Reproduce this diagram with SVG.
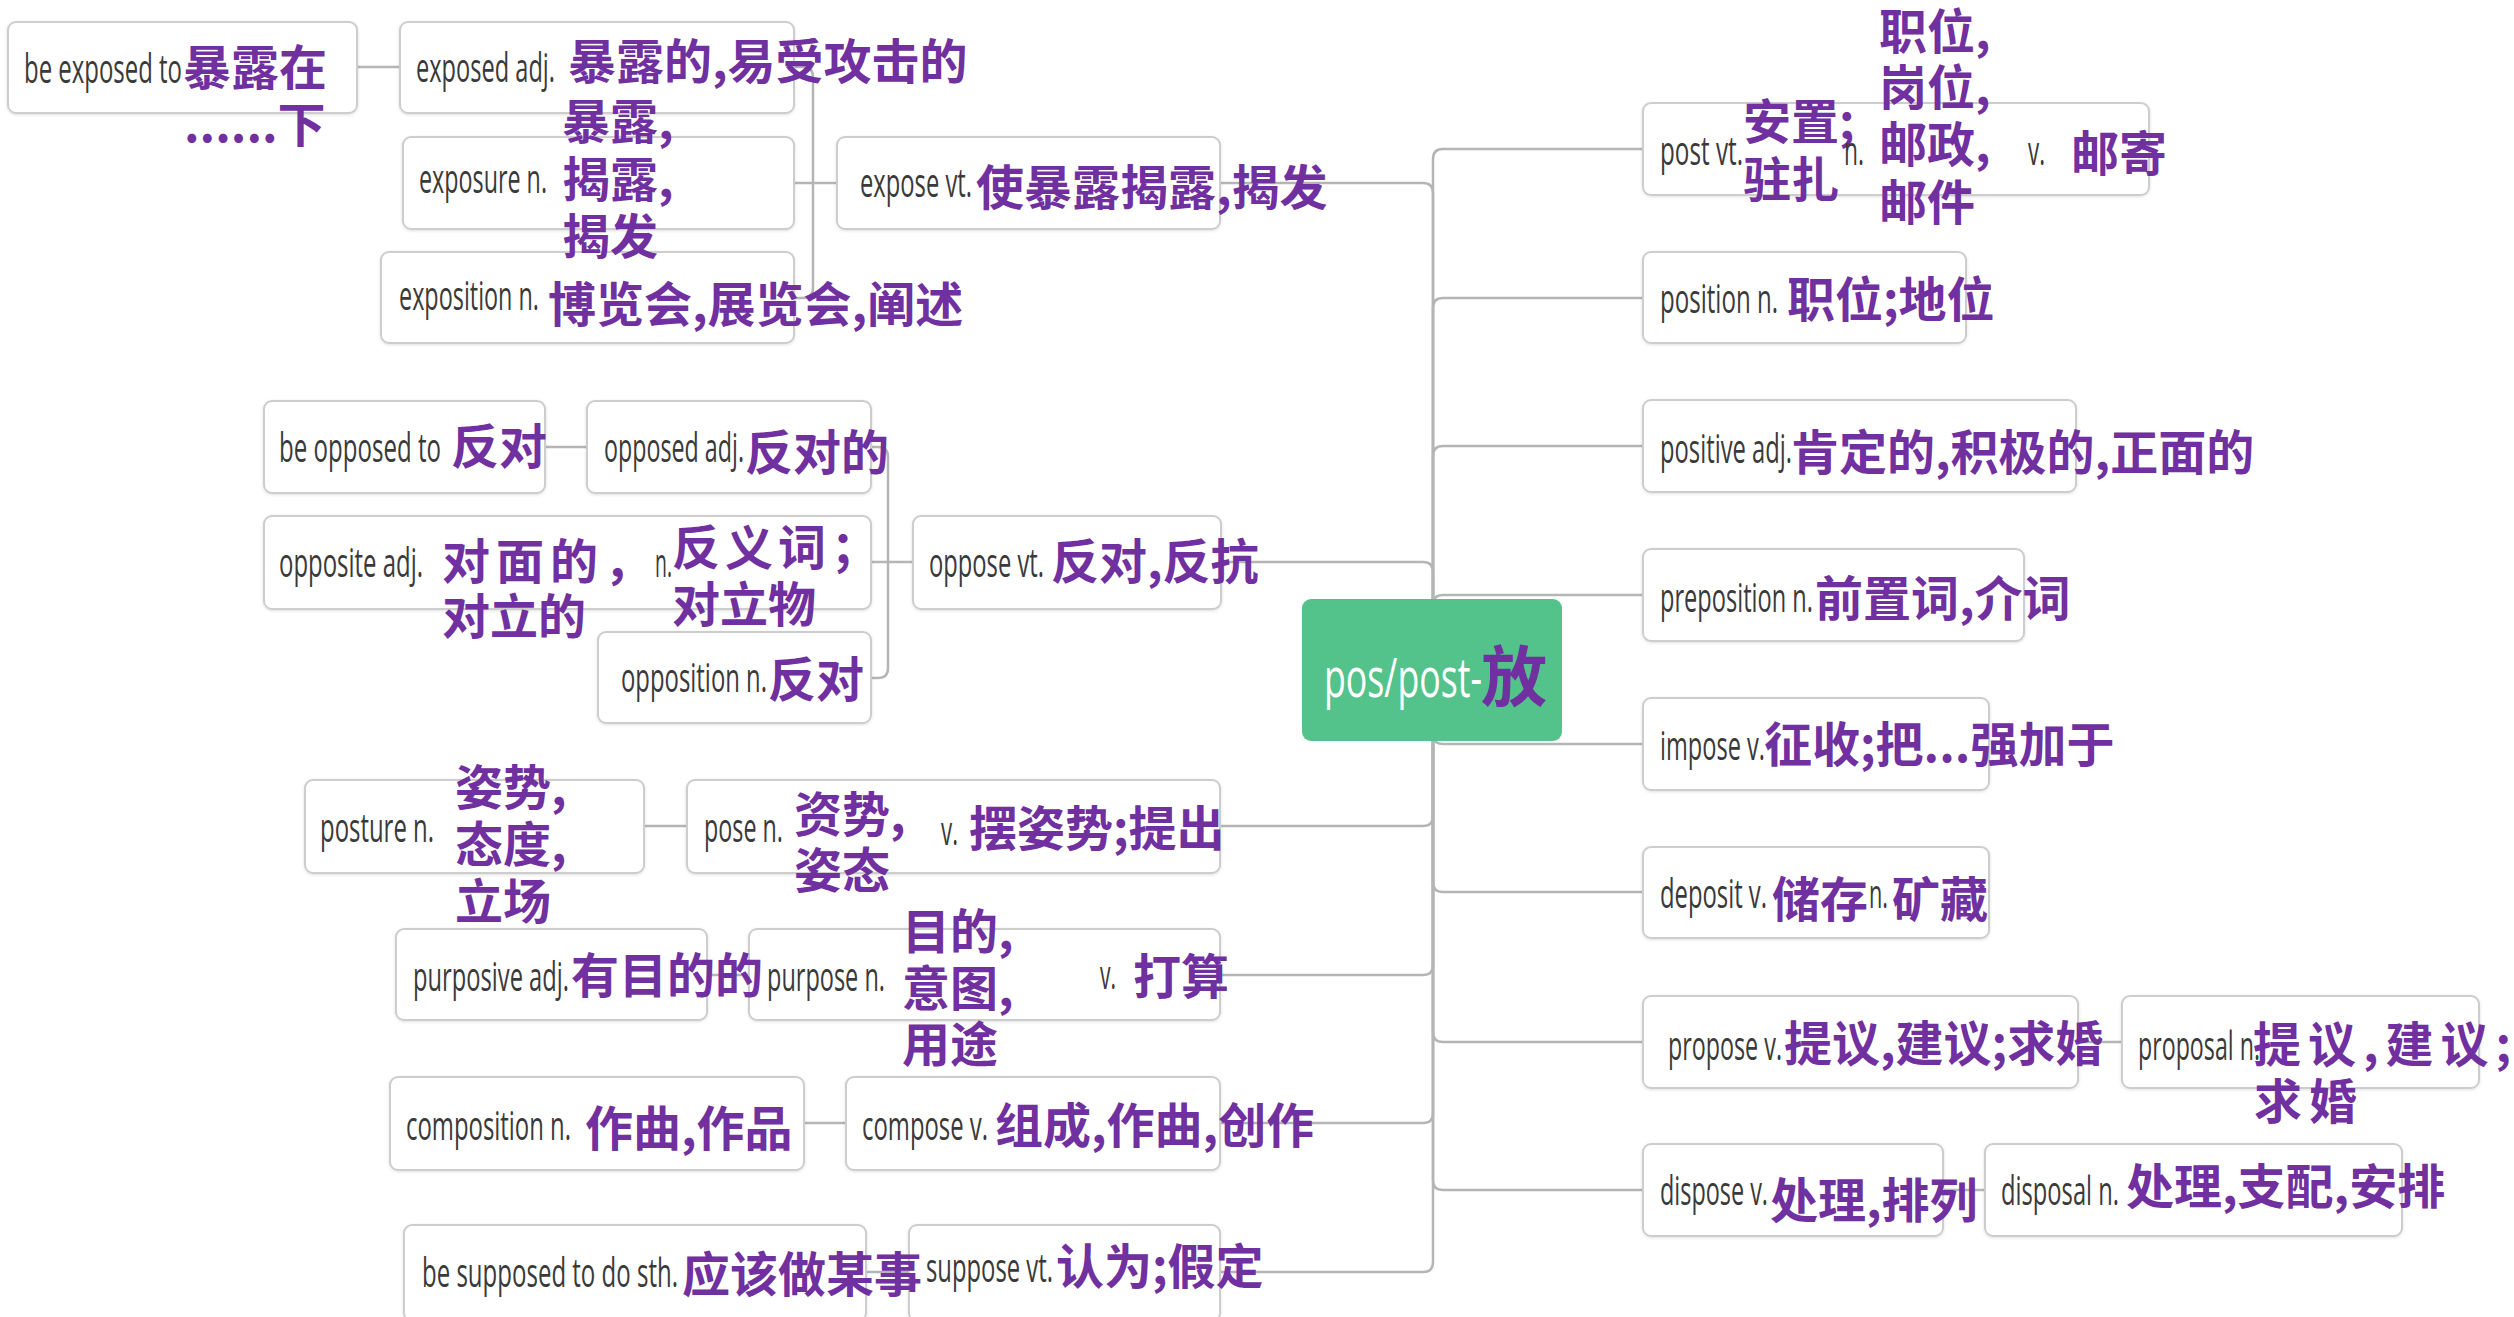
<svg xmlns="http://www.w3.org/2000/svg" width="2514" height="1317" viewBox="0 0 2514 1317">
<defs>
<filter id="sh" x="-5%" y="-10%" width="110%" height="125%">
<feDropShadow dx="0" dy="1" stdDeviation="1.5" flood-color="#000" flood-opacity="0.12"/>
</filter>
<style>
.box{fill:#fff;stroke:#cdcdcd;stroke-width:2;filter:url(#sh)}
.root{fill:#53c28b}
.en{font-family:"Open Sans","Liberation Sans",sans-serif;font-size:41px;fill:#3a3a3a}
.zh{font-family:"Noto Sans CJK SC","Noto Sans",sans-serif;font-size:48px;font-weight:700;fill:#7030a0}
.big{font-size:66px}
.ln{fill:none;stroke:#b5b5b5;stroke-width:2.5}
</style>
</defs>
<rect width="2514" height="1317" fill="#fff"/>

<g id="connectors">
<path class="ln" d="M1433,670 V159 Q1433,149 1443,149 H1643"/>
<path class="ln" d="M1433,670 V308 Q1433,298 1443,298 H1643"/>
<path class="ln" d="M1433,670 V456 Q1433,446 1443,446 H1643"/>
<path class="ln" d="M1433,670 V605 Q1433,595 1443,595 H1643"/>
<path class="ln" d="M1433,670 V734 Q1433,744 1443,744 H1643"/>
<path class="ln" d="M1433,670 V882 Q1433,892 1443,892 H1643"/>
<path class="ln" d="M1433,670 V1032 Q1433,1042 1443,1042 H1643"/>
<path class="ln" d="M1433,670 V1180 Q1433,1190 1443,1190 H1643"/>
<path class="ln" d="M1433,670 V193 Q1433,183 1423,183 H1220"/>
<path class="ln" d="M1433,670 V572 Q1433,562 1423,562 H1221"/>
<path class="ln" d="M1433,670 V816 Q1433,826 1423,826 H1220"/>
<path class="ln" d="M1433,670 V965 Q1433,975 1423,975 H1220"/>
<path class="ln" d="M1433,670 V1113 Q1433,1123 1423,1123 H1220"/>
<path class="ln" d="M1433,670 V1262 Q1433,1272 1423,1272 H1220"/>
<path class="ln" d="M837,183 H794"/>
<path class="ln" d="M813,183 V77 Q813,67 803,67 H794"/>
<path class="ln" d="M813,183 V288 Q813,298 803,298 H794"/>
<path class="ln" d="M913,562 H871"/>
<path class="ln" d="M888,562 V457 Q888,447 878,447 H871"/>
<path class="ln" d="M888,562 V668 Q888,678 878,678 H871"/>
<path class="ln" d="M357,67 H400"/>
<path class="ln" d="M545,447 H587"/>
<path class="ln" d="M644,826 H687"/>
<path class="ln" d="M707,975 H749"/>
<path class="ln" d="M804,1123 H846"/>
<path class="ln" d="M866,1272 H909"/>
<path class="ln" d="M2078,1042 H2122"/>
<path class="ln" d="M1943,1190 H1985"/>
</g>

<g id="root">
<rect class="root" x="1302" y="599" width="260" height="142" rx="9"/>
<text x="1324" y="697" font-family="'Open Sans','Liberation Sans',sans-serif" font-size="54" fill="#ffffff" textLength="158" lengthAdjust="spacingAndGlyphs">pos/post-</text>
<text class="zh big" x="1481" y="701">放</text>
</g>

<g id="be-exposed-to">
<rect class="box" x="8" y="22" width="349" height="91" rx="8"/>
<text class="en" x="24" y="83" textLength="158" lengthAdjust="spacingAndGlyphs">be exposed to</text>
<text class="zh"><tspan x="183" y="85">暴露在</tspan><tspan x="184" y="142">......下</tspan></text>
</g>

<g id="exposed">
<rect class="box" x="400" y="22" width="394" height="91" rx="8"/>
<text class="en" x="416" y="82" textLength="139" lengthAdjust="spacingAndGlyphs">exposed adj.</text>
<text class="zh" x="568" y="79">暴露的,易受攻击的</text>
</g>

<g id="exposition">
<rect class="box" x="381" y="252" width="413" height="91" rx="8"/>
<text class="en" x="399" y="310" textLength="140" lengthAdjust="spacingAndGlyphs">exposition n.</text>
<text class="zh" x="548" y="322">博览会,展览会,阐述</text>
</g>

<g id="exposure">
<rect class="box" x="403" y="137" width="391" height="92" rx="8"/>
<text class="en" x="419" y="193" textLength="128" lengthAdjust="spacingAndGlyphs">exposure n.</text>
<text class="zh"><tspan x="562" y="139">暴露,</tspan><tspan x="562" y="197">揭露,</tspan><tspan x="562" y="254">揭发</tspan></text>
</g>

<g id="expose">
<rect class="box" x="837" y="137" width="383" height="92" rx="8"/>
<text class="en" x="860" y="197" textLength="112" lengthAdjust="spacingAndGlyphs">expose vt.</text>
<text class="zh" x="976" y="205">使暴露揭露,揭发</text>
</g>

<g id="be-opposed-to">
<rect class="box" x="264" y="401" width="281" height="92" rx="8"/>
<text class="en" x="279" y="462" textLength="162" lengthAdjust="spacingAndGlyphs">be opposed to</text>
<text class="zh" x="451" y="464">反对</text>
</g>

<g id="opposed">
<rect class="box" x="587" y="401" width="284" height="92" rx="8"/>
<text class="en" x="604" y="462" textLength="140" lengthAdjust="spacingAndGlyphs">opposed adj.</text>
<text class="zh" x="745" y="470">反对的</text>
</g>

<g id="opposite">
<rect class="box" x="264" y="516" width="607" height="93" rx="8"/>
<text class="en" x="279" y="577" textLength="144" lengthAdjust="spacingAndGlyphs">opposite adj.</text>
<text class="zh"><tspan x="442" y="579" letter-spacing="6">对面的，</tspan><tspan x="442" y="634">对立的</tspan></text>
<text class="en" x="655" y="577" textLength="17" lengthAdjust="spacingAndGlyphs">n.</text>
<text class="zh"><tspan x="672" y="565" letter-spacing="5">反义词；</tspan><tspan x="672" y="622">对立物</tspan></text>
</g>

<g id="opposition">
<rect class="box" x="598" y="632" width="273" height="91" rx="8"/>
<text class="en" x="621" y="692" textLength="146" lengthAdjust="spacingAndGlyphs">opposition n.</text>
<text class="zh" x="768" y="697">反对</text>
</g>

<g id="oppose">
<rect class="box" x="913" y="516" width="308" height="93" rx="8"/>
<text class="en" x="929" y="577" textLength="115" lengthAdjust="spacingAndGlyphs">oppose vt.</text>
<text class="zh" x="1051" y="579">反对,反抗</text>
</g>

<g id="posture">
<rect class="box" x="305" y="780" width="339" height="93" rx="8"/>
<text class="en" x="320" y="842" textLength="114" lengthAdjust="spacingAndGlyphs">posture n.</text>
<text class="zh"><tspan x="455" y="805">姿势,</tspan><tspan x="455" y="862">态度,</tspan><tspan x="455" y="919">立场</tspan></text>
</g>

<g id="pose">
<rect class="box" x="687" y="780" width="533" height="93" rx="8"/>
<text class="en" x="704" y="842" textLength="79" lengthAdjust="spacingAndGlyphs">pose n.</text>
<text class="zh"><tspan x="794" y="832">资势,</tspan><tspan x="794" y="888">姿态</tspan></text>
<text class="en" x="941" y="845" textLength="17" lengthAdjust="spacingAndGlyphs">v.</text>
<text class="zh" x="969" y="846">摆姿势;提出</text>
</g>

<g id="purpose">
<rect class="box" x="749" y="929" width="471" height="91" rx="8"/>
<text class="en" x="767" y="991" textLength="118" lengthAdjust="spacingAndGlyphs">purpose n.</text>
<text class="zh"><tspan x="902" y="949">目的,</tspan><tspan x="902" y="1006">意图,</tspan><tspan x="902" y="1062">用途</tspan></text>
<text class="en" x="1100" y="989" textLength="16" lengthAdjust="spacingAndGlyphs">v.</text>
<text class="zh" x="1133" y="994">打算</text>
</g>

<g id="purposive">
<rect class="box" x="396" y="929" width="311" height="91" rx="8"/>
<text class="en" x="413" y="991" textLength="156" lengthAdjust="spacingAndGlyphs">purposive adj.</text>
<text class="zh" x="571" y="993">有目的的</text>
</g>

<g id="composition">
<rect class="box" x="390" y="1077" width="414" height="93" rx="8"/>
<text class="en" x="406" y="1140" textLength="165" lengthAdjust="spacingAndGlyphs">composition n.</text>
<text class="zh" x="585" y="1146">作曲,作品</text>
</g>

<g id="compose">
<rect class="box" x="846" y="1077" width="374" height="93" rx="8"/>
<text class="en" x="862" y="1140" textLength="126" lengthAdjust="spacingAndGlyphs">compose v.</text>
<text class="zh" x="995" y="1143">组成,作曲,创作</text>
</g>

<g id="suppose">
<rect class="box" x="909" y="1225" width="311" height="96" rx="8"/>
<text class="en" x="926" y="1282" textLength="127" lengthAdjust="spacingAndGlyphs">suppose vt.</text>
<text class="zh" x="1056" y="1284">认为;假定</text>
</g>

<g id="be-supposed-to">
<rect class="box" x="404" y="1225" width="462" height="96" rx="8"/>
<text class="en" x="422" y="1287" textLength="256" lengthAdjust="spacingAndGlyphs">be supposed to do sth.</text>
<text class="zh" x="682" y="1292">应该做某事</text>
</g>

<g id="post">
<rect class="box" x="1643" y="103" width="506" height="92" rx="8"/>
<text class="en" x="1660" y="165" textLength="83" lengthAdjust="spacingAndGlyphs">post vt.</text>
<text class="zh"><tspan x="1743" y="139">安置;</tspan><tspan x="1743" y="197">驻扎</tspan></text>
<text class="en" x="1844" y="165" textLength="20" lengthAdjust="spacingAndGlyphs">n.</text>
<text class="zh"><tspan x="1879" y="49">职位,</tspan><tspan x="1879" y="105">岗位,</tspan><tspan x="1879" y="162">邮政,</tspan><tspan x="1879" y="220">邮件</tspan></text>
<text class="en" x="2028" y="165" textLength="17" lengthAdjust="spacingAndGlyphs">v.</text>
<text class="zh" x="2071" y="171">邮寄</text>
</g>

<g id="position">
<rect class="box" x="1643" y="252" width="323" height="91" rx="8"/>
<text class="en" x="1660" y="313" textLength="118" lengthAdjust="spacingAndGlyphs">position n.</text>
<text class="zh" x="1787" y="317">职位;地位</text>
</g>

<g id="positive">
<rect class="box" x="1643" y="400" width="433" height="92" rx="8"/>
<text class="en" x="1660" y="463" textLength="132" lengthAdjust="spacingAndGlyphs">positive adj.</text>
<text class="zh" x="1791" y="470">肯定的,积极的,正面的</text>
</g>

<g id="preposition">
<rect class="box" x="1643" y="549" width="381" height="92" rx="8"/>
<text class="en" x="1660" y="612" textLength="153" lengthAdjust="spacingAndGlyphs">preposition n.</text>
<text class="zh" x="1815" y="616">前置词,介词</text>
</g>

<g id="impose">
<rect class="box" x="1643" y="698" width="346" height="92" rx="8"/>
<text class="en" x="1660" y="760" textLength="105" lengthAdjust="spacingAndGlyphs">impose v.</text>
<text class="zh" x="1764" y="762">征收;把...强加于</text>
</g>

<g id="deposit">
<rect class="box" x="1643" y="847" width="346" height="91" rx="8"/>
<text class="en" x="1660" y="908" textLength="107" lengthAdjust="spacingAndGlyphs">deposit v.</text>
<text class="zh" x="1772" y="917">储存</text>
<text class="en" x="1869" y="908" textLength="19" lengthAdjust="spacingAndGlyphs">n.</text>
<text class="zh" x="1892" y="917">矿藏</text>
</g>

<g id="propose">
<rect class="box" x="1643" y="996" width="435" height="92" rx="8"/>
<text class="en" x="1668" y="1060" textLength="114" lengthAdjust="spacingAndGlyphs">propose v.</text>
<text class="zh" x="1784" y="1061">提议,建议;求婚</text>
</g>

<g id="proposal">
<rect class="box" x="2122" y="996" width="357" height="92" rx="8"/>
<text class="en" x="2138" y="1060" textLength="122" lengthAdjust="spacingAndGlyphs">proposal n.</text>
<text class="zh"><tspan x="2253" y="1062" letter-spacing="7">提议,建议;</tspan><tspan x="2254" y="1119" letter-spacing="7">求婚</tspan></text>
</g>

<g id="dispose">
<rect class="box" x="1643" y="1144" width="300" height="92" rx="8"/>
<text class="en" x="1660" y="1205" textLength="108" lengthAdjust="spacingAndGlyphs">dispose v.</text>
<text class="zh" x="1770" y="1218">处理,排列</text>
</g>

<g id="disposal">
<rect class="box" x="1985" y="1144" width="417" height="92" rx="8"/>
<text class="en" x="2001" y="1205" textLength="118" lengthAdjust="spacingAndGlyphs">disposal n.</text>
<text class="zh" x="2126" y="1204">处理,支配,安排</text>
</g>
</svg>
